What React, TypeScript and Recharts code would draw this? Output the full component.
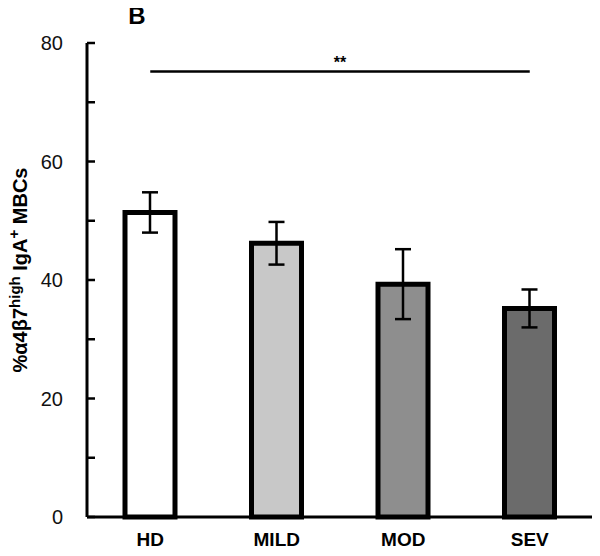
import { BarChart, Bar, XAxis, YAxis, ErrorBar, Cell, ReferenceLine, Label } from "recharts";

// group means and SEM
const groups = ["HD", "MILD", "MOD", "SEV"];
const means = [51.4, 46.2, 39.3, 35.2];
const errors = [3.4, 3.6, 5.9, 3.2];
const fills = ["#ffffff", "#c8c8c8", "#8e8e8e", "#6b6b6b"];
const yTicks = [0, 10, 20, 30, 40, 50, 60, 70, 80];
const labelledTicks = [0, 20, 40, 60, 80];
const sigLevel = 75.2;
const sigText = "**";
const panelLetter = "B";

const FONT = "'Liberation Sans', Arial, Helvetica, sans-serif";
const TICK_MARGIN = 24;

const data = groups.map((g, i) => ({ group: g, mean: means[i], err: errors[i] }));

function YTick(props: any) {
  const { x, y, payload } = props;
  const axisX = x + TICK_MARGIN;
  return (
    <g>
      <line x1={axisX} x2={axisX + 8} y1={y} y2={y} stroke="#000" strokeWidth={2.5} />
      {labelledTicks.includes(payload.value) && (
        <text x={x} y={y} dy={7} textAnchor="end" fontSize={20} fill="#111" fontFamily={FONT}>
          {payload.value}
        </text>
      )}
    </g>
  );
}

function YTitle(props: any) {
  const { viewBox } = props;
  const cx = 27;
  const cy = viewBox.y + viewBox.height / 2 - 10;
  return (
    <text
      x={cx}
      y={cy}
      transform={`rotate(-90, ${cx}, ${cy})`}
      textAnchor="middle"
      fontSize={20}
      fontWeight="bold"
      fontFamily={FONT}
      fill="#000"
    >
      %α4β7
      <tspan fontSize={15} dy={-7}>high</tspan>
      <tspan dy={7}> IgA</tspan>
      <tspan fontSize={15} dy={-8}>+</tspan>
      <tspan dy={8}> MBCs</tspan>
    </text>
  );
}

export default function App() {
  return (
    <div style={{ width: 600, height: 556, margin: -8, background: "#fff" }}>
      <BarChart
        width={600}
        height={556}
        data={data}
        margin={{ top: 43, right: 7, bottom: 9, left: 0 }}
      >
        <text x={137} y={24} textAnchor="middle" fontSize={24} fontWeight="bold" fontFamily={FONT} fill="#000">
          {panelLetter}
        </text>
        <XAxis
          dataKey="group"
          axisLine={{ stroke: "#000", strokeWidth: 3 }}
          tickLine={false}
          tickSize={0}
          tickMargin={16}
          height={30}
          tick={{ fill: "#000", fontSize: 19, fontWeight: "bold", fontFamily: FONT }}
        />
        <YAxis
          width={87}
          domain={[0, 80]}
          ticks={yTicks}
          interval={0}
          axisLine={{ stroke: "#000", strokeWidth: 3 }}
          tickLine={false}
          tickSize={0}
          tickMargin={TICK_MARGIN}
          tick={<YTick />}
        >
          <Label content={<YTitle />} />
        </YAxis>
        <ReferenceLine
          segment={[
            { x: groups[0], y: sigLevel },
            { x: groups[groups.length - 1], y: sigLevel },
          ]}
          stroke="#000"
          strokeWidth={2.5}
        >
          <Label
            value={sigText}
            position="top"
            offset={3}
            fontSize={16}
            fontWeight="bold"
            fontFamily={FONT}
            fill="#000"
          />
        </ReferenceLine>
        <Bar dataKey="mean" barSize={50} stroke="#000" strokeWidth={5} isAnimationActive={false}>
          {data.map((d, i) => (
            <Cell key={d.group} fill={fills[i]} />
          ))}
          <ErrorBar dataKey="err" width={8} stroke="#000" strokeWidth={2.5} isAnimationActive={false} />
        </Bar>
      </BarChart>
    </div>
  );
}
